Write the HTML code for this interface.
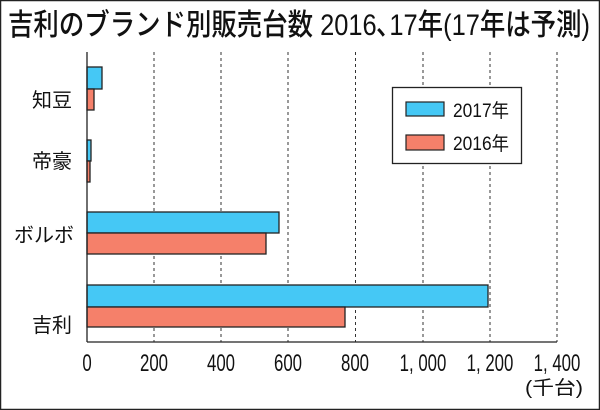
<!DOCTYPE html>
<html><head><meta charset="utf-8"><style>
html,body{margin:0;padding:0;background:#fff}
svg{display:block}
text{font-family:"Liberation Sans","Noto Sans CJK JP",sans-serif;fill:#111}
</style></head><body>
<svg width="600" height="410" viewBox="0 0 600 410" xmlns="http://www.w3.org/2000/svg">
<rect x="0.5" y="0.5" width="599" height="409" fill="#fff" stroke="#222" stroke-width="1.5"/>
<text x="8" y="35" font-size="30" font-weight="500" textLength="582" lengthAdjust="spacingAndGlyphs">吉利のブランド別販売台数  2016､17年(17年は予測)</text>
<g stroke="#333" stroke-width="1" stroke-dasharray="3,3">
<line x1="154" y1="52" x2="154" y2="342"/>
<line x1="221" y1="52" x2="221" y2="342"/>
<line x1="288" y1="52" x2="288" y2="342"/>
<line x1="355.5" y1="52" x2="355.5" y2="342"/>
<line x1="423" y1="52" x2="423" y2="342"/>
<line x1="490" y1="52" x2="490" y2="342"/>
<line x1="557" y1="52" x2="557" y2="342"/>
</g>
<g stroke="#222" stroke-width="1.3">
<rect x="87" y="67" width="15" height="22" fill="#45c8f5"/>
<rect x="87" y="89" width="7" height="21" fill="#f5806a"/>
<rect x="87" y="140" width="4" height="21" fill="#45c8f5"/>
<rect x="87" y="161" width="3" height="21" fill="#f5806a"/>
<rect x="87" y="212" width="192" height="21" fill="#45c8f5"/>
<rect x="87" y="233" width="179" height="21" fill="#f5806a"/>
<rect x="87" y="285" width="401" height="22" fill="#45c8f5"/>
<rect x="87" y="307" width="258" height="20" fill="#f5806a"/>
</g>
<line x1="87" y1="52" x2="87" y2="342" stroke="#222" stroke-width="1.3"/>
<line x1="87" y1="342" x2="557" y2="342" stroke="#222" stroke-width="1.3"/>
<g font-size="20" text-anchor="end">
<text x="72" y="107">知豆</text>
<text x="72" y="168">帝豪</text>
<text x="74" y="242">ボルボ</text>
<text x="72" y="332">吉利</text>
</g>
<g font-size="24" text-anchor="middle">
<text x="87" y="371" transform="translate(87 0) scale(0.7 1) translate(-87 0)">0</text>
<text x="154" y="371" transform="translate(154 0) scale(0.7 1) translate(-154 0)">200</text>
<text x="221" y="371" transform="translate(221 0) scale(0.7 1) translate(-221 0)">400</text>
<text x="288" y="371" transform="translate(288 0) scale(0.7 1) translate(-288 0)">600</text>
<text x="355" y="371" transform="translate(355 0) scale(0.7 1) translate(-355 0)">800</text>
<text x="423" y="371" transform="translate(423 0) scale(0.7 1) translate(-423 0)">1, 000</text>
<text x="490" y="371" transform="translate(490 0) scale(0.7 1) translate(-490 0)">1, 200</text>
<text x="557" y="371" transform="translate(557 0) scale(0.7 1) translate(-557 0)">1, 400</text>
</g>
<text x="583" y="394" font-size="19" text-anchor="end" textLength="58" lengthAdjust="spacingAndGlyphs">(千台)</text>
<rect x="392.5" y="87.5" width="129" height="76" fill="#fff" stroke="#222" stroke-width="1.3"/>
<rect x="406" y="102" width="38" height="14" fill="#45c8f5" stroke="#222" stroke-width="1.2"/>
<rect x="406" y="135" width="38" height="15" fill="#f5806a" stroke="#222" stroke-width="1.2"/>
<text x="453" y="117" font-size="19" textLength="56" lengthAdjust="spacingAndGlyphs">2017年</text>
<text x="453" y="150" font-size="19" textLength="56" lengthAdjust="spacingAndGlyphs">2016年</text>
</svg>
</body></html>
